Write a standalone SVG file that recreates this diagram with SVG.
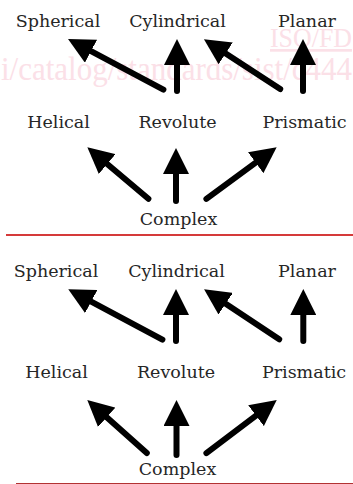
<svg xmlns="http://www.w3.org/2000/svg" width="353" height="484" viewBox="0 0 353 484">
<style>
.lbl{font-family:"DejaVu Serif","Liberation Serif",serif;font-size:17.5px;fill:#262626;text-anchor:middle}
.wm{font-family:"Liberation Serif",serif;fill:#fbe0e7}
.conn line{stroke:#000;stroke-width:6;stroke-linecap:round;marker-end:url(#ah)}
</style>
<defs>
<marker id="ah" markerUnits="userSpaceOnUse" markerWidth="26" markerHeight="26" viewBox="0 0 26 26" refX="0" refY="13" orient="auto">
<path d="M0,0 L26,13 L0,26 z" fill="#000"/>
</marker>
</defs>
<rect width="353" height="484" fill="#fff"/>
<g id="watermark">
<text class="wm" x="270" y="47" font-size="27" textLength="82" lengthAdjust="spacingAndGlyphs" text-decoration="underline">ISO/FD</text>
<text class="wm" x="1" y="80" font-size="33" textLength="351" lengthAdjust="spacingAndGlyphs">i/catalog/standards/sist/c444</text>
</g>
<g id="connectors" class="conn">
<line x1="163.4" y1="89.6" x2="91" y2="51.2"/>
<line x1="177" y1="91" x2="177" y2="65"/>
<line x1="280.2" y1="89" x2="225.7" y2="53.4"/>
<line x1="303" y1="91" x2="303" y2="65"/>
<line x1="148.4" y1="198.8" x2="107.2" y2="164"/>
<line x1="176" y1="201" x2="176" y2="174"/>
<line x1="206.4" y1="198.9" x2="255.7" y2="162.7"/>
<line x1="162.4" y1="339.6" x2="91.2" y2="301.6"/>
<line x1="176" y1="341" x2="176" y2="315"/>
<line x1="279.2" y1="339.3" x2="225.7" y2="303.7"/>
<line x1="303.3" y1="341" x2="303.3" y2="315"/>
<line x1="146.8" y1="453" x2="106.7" y2="417.3"/>
<line x1="176.5" y1="455" x2="176.5" y2="426"/>
<line x1="206.4" y1="453.2" x2="256" y2="415.7"/>
</g>
<g id="top">
<g id="spherical1"><text class="lbl" x="58" y="27">Spherical</text></g>
<g id="cylindrical1"><text class="lbl" x="177.5" y="27">Cylindrical</text></g>
<g id="planar1"><text class="lbl" x="307" y="27">Planar</text></g>
<g id="helical1"><text class="lbl" x="58.5" y="128">Helical</text></g>
<g id="revolute1"><text class="lbl" x="177.5" y="128">Revolute</text></g>
<g id="prismatic1"><text class="lbl" x="304.5" y="128">Prismatic</text></g>
<g id="complex1"><text class="lbl" x="178.5" y="225">Complex</text></g>
</g>
<line x1="6" y1="235" x2="353" y2="235" stroke="#d53a3a" stroke-width="2"/>
<g id="bottom">
<g id="spherical2"><text class="lbl" x="56" y="277">Spherical</text></g>
<g id="cylindrical2"><text class="lbl" x="176.5" y="277">Cylindrical</text></g>
<g id="planar2"><text class="lbl" x="307" y="277">Planar</text></g>
<g id="helical2"><text class="lbl" x="56.5" y="378">Helical</text></g>
<g id="revolute2"><text class="lbl" x="176" y="378">Revolute</text></g>
<g id="prismatic2"><text class="lbl" x="304" y="378">Prismatic</text></g>
<g id="complex2"><text class="lbl" x="177.5" y="475">Complex</text></g>
</g>
<line x1="16" y1="483.5" x2="353" y2="483.5" stroke="#b23232" stroke-width="1"/>
</svg>
